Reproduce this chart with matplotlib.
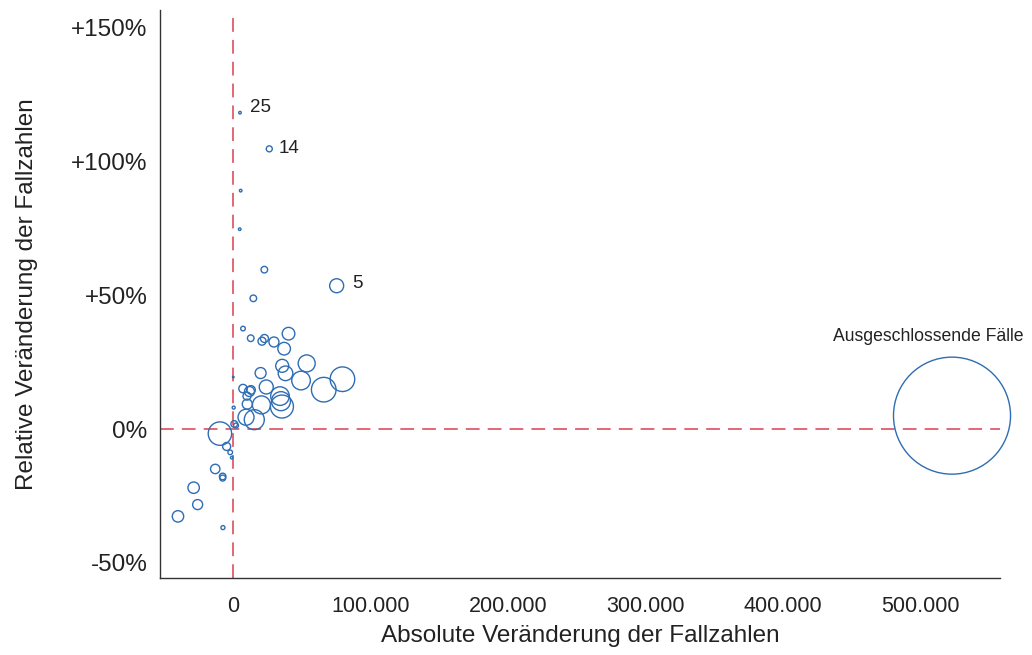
import matplotlib
matplotlib.use("Agg")
import matplotlib.pyplot as plt
from matplotlib.ticker import FixedLocator, FuncFormatter

# Absolute change (thousands of cases), relative change (%), bubble size (base cases, thousands)
abs_change = [5.1, 26.4, 5.6, 4.9, 22.8, 14.8, 75.4, 7.3, 12.9, 21.1, 22.9, 29.8, 40.4,
              37.2, 35.8, 53.6, 38.2, 20.1, 49.5, 66.0, 79.6, 24.2, 7.3, 12.0, 13.1, 10.2,
              10.4, 0.2, 0.5, 20.7, 34.2, 34.9, 35.6, 9.5, 15.5, 0.9, 2.2, -9.5, -4.6,
              -2.0, -0.9, -12.9, -7.5, -7.5, -28.6, -25.7, -40.0, -7.3]
rel_change = [118.1, 104.6, 89.0, 74.6, 59.5, 48.8, 53.5, 37.5, 33.9, 32.8, 33.8, 32.5, 35.6,
              30.0, 23.6, 24.5, 20.8, 20.9, 18.1, 14.7, 18.6, 15.7, 15.1, 14.0, 14.6, 12.3,
              9.3, 19.4, 8.0, 9.0, 12.3, 10.4, 8.4, 4.4, 3.5, 1.9, 1.3, -1.7, -6.5,
              -8.7, -10.7, -14.9, -17.7, -18.3, -21.9, -28.2, -32.6, -36.8]
base_cases = [4.9, 26.3, 4.9, 4.9, 31.8, 31.8, 143, 15.5, 31.8, 46.8, 46.8, 73, 116,
              116, 123, 211, 156, 88, 253, 442, 442, 143, 52, 73, 54, 47,
              73, 1.9, 6.6, 237, 253, 264, 386, 187, 292, 32, 18, 400, 47,
              15.5, 4.9, 64.5, 31.8, 26.3, 95, 73, 95, 11.7]
labels = {0: "25", 1: "14", 6: "5"}

excl_abs = [522.9]
excl_rel = [5.0]
excl_base = [10000]
excl_label = "Ausgeschlossende Fälle"

x_ticks = [0, 100, 200, 300, 400, 500]
y_ticks = [-50, 0, 50, 100, 150]

BLUE = "#2E6DB4"
RED = "#D9404F"
SCALE = 0.71  # points^2 per thousand cases

fig = plt.figure(figsize=(10.32, 6.55), dpi=100)
ax = fig.add_axes([0.155, 0.1176, 0.814, 0.8674])

ax.axhline(0, color=RED, lw=1.1, dashes=(9, 5.3), zorder=1)
ax.axvline(0, color=RED, lw=1.1, dashes=(9, 5.3), zorder=1)

ax.scatter(abs_change, rel_change, s=[b * SCALE for b in base_cases],
           facecolors="none", edgecolors=BLUE, linewidths=1.0, zorder=3)
ax.scatter(excl_abs, excl_rel, s=[b * SCALE for b in excl_base],
           facecolors="none", edgecolors=BLUE, linewidths=1.0, zorder=3,
           clip_on=False)

font = ["Liberation Sans", "DejaVu Sans"]
offsets = {0: (7, 3.5), 1: (6.5, 0), 6: (11, 1.5)}
for i, t in labels.items():
    ax.annotate(t, (abs_change[i], rel_change[i]), xytext=offsets[i],
                textcoords="offset points", ha="left", va="center",
                fontsize=13.5, family=font, color="#222222")
ax.annotate(excl_label, (excl_abs[0], excl_rel[0]), xytext=(-17, 57),
            textcoords="offset points", ha="center", va="center",
            fontsize=12.7, family=font, color="#222222")

ax.set_xlim(-53.1, 557.8)
ax.set_ylim(-55.6, 156.5)

ax.xaxis.set_major_locator(FixedLocator(x_ticks))
ax.yaxis.set_major_locator(FixedLocator(y_ticks))
ax.xaxis.set_major_formatter(FuncFormatter(
    lambda v, p: "0" if v == 0 else f"{int(v)}.000"))
ax.yaxis.set_major_formatter(FuncFormatter(
    lambda v, p: "0%" if v == 0 else (f"+{int(v)}%" if v > 0 else f"{int(v)}%")))

for s in ["top", "right"]:
    ax.spines[s].set_visible(False)
for s in ["left", "bottom"]:
    ax.spines[s].set_color("#333333")
    ax.spines[s].set_linewidth(1.0)

ax.tick_params(axis="both", length=0)
ax.tick_params(axis="y", pad=9)
ax.tick_params(axis="x", pad=13)
for lab in ax.get_yticklabels():
    lab.set_family(font)
    lab.set_fontsize(17.5)
    lab.set_color("#222222")
for lab in ax.get_xticklabels():
    lab.set_family(font)
    lab.set_fontsize(15.5)
    lab.set_color("#222222")

ax.set_xlabel("Absolute Veränderung der Fallzahlen", fontsize=17.5, family=font,
              color="#222222", labelpad=6)
ax.set_ylabel("Relative Veränderung der Fallzahlen", fontsize=17.5, family=font,
              color="#222222", labelpad=24)

fig.savefig("out.png", dpi=100)
